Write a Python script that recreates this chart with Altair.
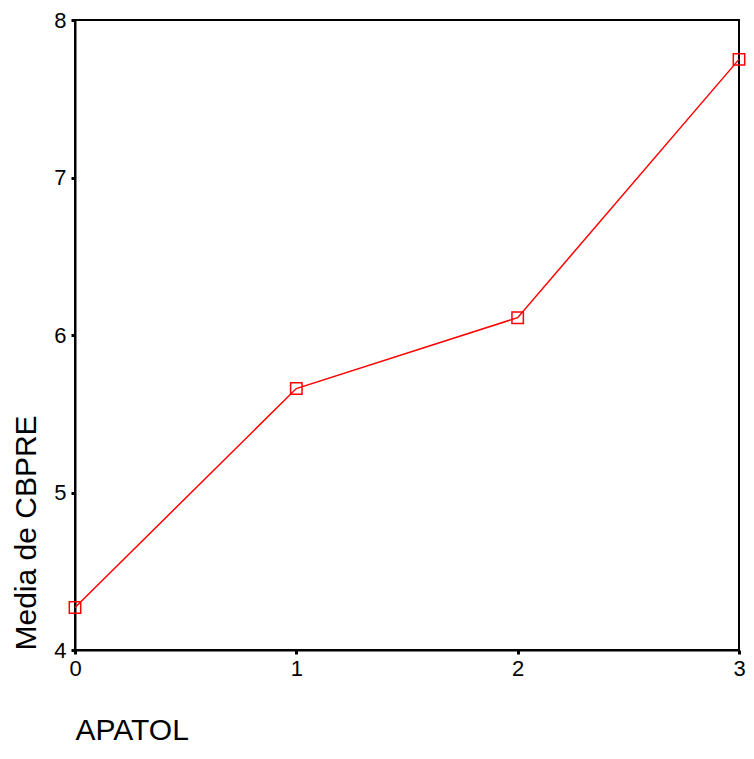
import altair as alt
import pandas as pd

apatol = [0, 1, 2, 3]
media_cbpre = [4.27, 5.66, 6.11, 7.75]
x_ticks = [0, 1, 2, 3]
y_ticks = [4, 5, 6, 7, 8]

df = pd.DataFrame({"APATOL": apatol, "CBPRE": media_cbpre})

FONT = "Liberation Sans"

x_enc = alt.X(
    "APATOL:Q",
    scale=alt.Scale(domain=[0, 3], nice=False, zero=False),
    axis=alt.Axis(
        values=x_ticks, format="d", title="APATOL", grid=False,
        domain=True, domainColor="black", domainWidth=2,
        ticks=True, tickColor="black", tickSize=4, tickWidth=3,
        labelFont=FONT, labelFontSize=22, labelColor="black", labelPadding=4,
        labelFlush=False,
        titleFont=FONT, titleFontSize=30, titleFontWeight="normal", titleColor="black",
        titleAnchor="start", titleAlign="left", titleBaseline="alphabetic",
        titleX=0, titleY=89,
    ),
)
y_enc = alt.Y(
    "CBPRE:Q",
    scale=alt.Scale(domain=[4, 8], nice=False, zero=False),
    axis=alt.Axis(
        values=y_ticks, format="d", title="Media de CBPRE", grid=False,
        domain=True, domainColor="black", domainWidth=2,
        ticks=True, tickColor="black", tickSize=4, tickWidth=3,
        labelFont=FONT, labelFontSize=22, labelColor="black", labelPadding=5,
        labelFlush=False,
        titleFont=FONT, titleFontSize=30, titleFontWeight="normal", titleColor="black",
        titleAngle=-90, titleAlign="left", titleBaseline="alphabetic",
        titleX=-40, titleY=630,
    ),
)

line = alt.Chart(df).mark_line(color="#FF0000", strokeWidth=1.5).encode(x=x_enc, y=y_enc)
points = alt.Chart(df).mark_point(
    shape="square", filled=False, color="#FF0000", size=130, strokeWidth=1.5, opacity=1
).encode(x=x_enc, y=y_enc)

chart = (
    (line + points)
    .properties(
        width=664,
        height=630,
        autosize=alt.AutoSizeParams(type="none"),
        padding={"left": 67, "top": 12, "right": 7, "bottom": 96},
        background="white",
    )
    .configure_view(stroke="black", strokeWidth=2)
)

chart.save("out.html", embed_options={"renderer": "svg", "actions": False})
